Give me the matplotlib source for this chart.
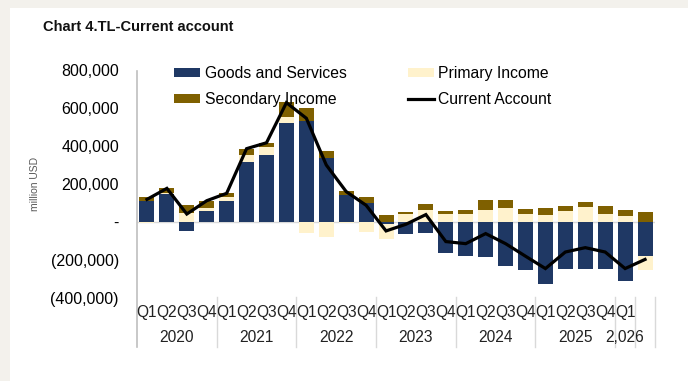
import numpy as np
import matplotlib
matplotlib.use('Agg')
import matplotlib.pyplot as plt
from matplotlib.patches import Rectangle

plt.rcParams['font.family'] = ['Liberation Sans', 'DejaVu Sans']

# data (million USD)
quarters = ['Q1', 'Q2', 'Q3', 'Q4'] * 6 + ['Q1', '']
years = ['2020', '2021', '2022', '2023', '2024', '2025', '2,026', '']
year_sizes = [4, 4, 4, 4, 4, 4, 1, 1]

goods = [110000, 150000, -47000, 58000, 112000, 317000, 353000, 523000,
         532000, 335000, 140000, 98000, -12000, -65000, -58000, -161000,
         -179000, -184000, -232000, -254000, -325000, -246000, -246000, -246000,
         -311000, -181000]
primary = [-5000, 5000, 47000, 17000, 20000, 35000, 40000, 32000,
           -58000, -79000, -5000, -53000, -79000, 44000, 62000, 40000,
           44000, 61000, 75000, 40000, 39000, 58000, 79000, 44000,
           33000, -70000]
secondary = [22000, 23000, 40000, 35000, 22000, 30000, 25000, 74000,
             67000, 40000, 23000, 32000, 37000, 9000, 35000, 18000,
             21000, 56000, 42000, 30000, 37000, 28000, 26000, 39000,
             28000, 53000]
current = [119000, 177000, 42000, 112000, 151000, 386000, 417000, 628000,
           546000, 300000, 160000, 88000, -47000, -12000, 39000, -103000,
           -114000, -61000, -114000, -180000, -245000, -158000, -135000, -158000,
           -245000, -197000]

navy = '#1f3864'
cream = '#fff2cc'
brown = '#7f6000'

W, H = 688, 381
fig = plt.figure(figsize=(W / 100, H / 100), dpi=100)
fig.patch.set_facecolor('#f3f1ec')
fig.add_artist(Rectangle((10 / W, 0), 1, 1 - 8 / H, transform=fig.transFigure,
                         facecolor='white', edgecolor='none', zorder=0))


def fx(px):
    return px / W


def fy(py):
    return 1 - py / H


ax = fig.add_axes([fx(137), fy(298), fx(655) - fx(137), fy(70) - fy(298)])
ax.set_facecolor('none')

x = np.arange(len(goods))
pos_base = np.zeros(len(x))
neg_base = np.zeros(len(x))
handles = {}
for name, vals, col in [('Goods and Services', goods, navy),
                        ('Primary Income', primary, cream),
                        ('Secondary Income', secondary, brown)]:
    vals = np.array(vals, dtype=float)
    bottom = np.where(vals >= 0, pos_base, neg_base)
    handles[name] = ax.bar(x, vals, width=0.75, bottom=bottom, color=col, zorder=2)
    pos_base = pos_base + np.where(vals >= 0, vals, 0)
    neg_base = neg_base + np.where(vals < 0, vals, 0)

line, = ax.plot(x, current, color='black', lw=2.3, zorder=3,
                solid_joinstyle='miter')
handles['Current Account'] = line

ax.axhline(0, color='#d9d9d9', lw=1, zorder=1)
ax.set_xlim(-0.5, len(x) - 0.5)
ax.set_ylim(-400000, 800000)
ax.set_yticks(np.arange(-400000, 800001, 200000))


def fmt(v):
    if v == 0:
        return '-'
    if v < 0:
        return '({:,})'.format(int(-v))
    return '{:,}'.format(int(v))


ax.set_yticklabels([fmt(v) for v in ax.get_yticks()], fontsize=11.5)
ax.tick_params(axis='y', length=0, pad=13)
ax.set_xticks([])
for s in ax.spines.values():
    s.set_visible(False)

# y axis line and category separators
fig.add_artist(plt.Line2D([fx(137), fx(137)], [fy(71), fy(347)],
                          color='#bfbfbf', lw=1.2))
edge = 0
for n in year_sizes:
    edge += n
    xe = fx(137) + (fx(655) - fx(137)) * edge / len(x)
    fig.add_artist(plt.Line2D([xe, xe], [fy(297), fy(347)], color='#d9d9d9', lw=1))

# category labels
for i, q in enumerate(quarters):
    xc = fx(137) + (fx(655) - fx(137)) * (i + 0.5) / len(x)
    fig.text(xc, fy(312), q, ha='center', va='center', fontsize=11.2, color='#222222')
start = 0
for yr, n in zip(years, year_sizes):
    xc = fx(137) + (fx(655) - fx(137)) * (start + n / 2) / len(x)
    fig.text(xc, fy(338), yr, ha='center', va='center', fontsize=11.2, color='#222222')
    start += n

fig.text(fx(35), fy(184), 'million USD', rotation=90, ha='center', va='center',
         fontsize=7.5, color='#595959')
fig.text(fx(43), fy(27), 'Chart 4.TL-Current account', ha='left', va='center',
         fontsize=10.5, fontweight='bold', color='#111111')

order = ['Goods and Services', 'Secondary Income', 'Primary Income', 'Current Account']
fig.legend([handles[k] for k in order], order, ncol=2, frameon=False,
           loc='upper left', bbox_to_anchor=(fx(174), fy(66)), fontsize=11.3,
           handlelength=1.65, handleheight=0.45, handletextpad=0.3,
           columnspacing=3.9, labelspacing=0.7, borderpad=0, borderaxespad=0)

fig.savefig('out.png', dpi=100, facecolor=fig.get_facecolor())
